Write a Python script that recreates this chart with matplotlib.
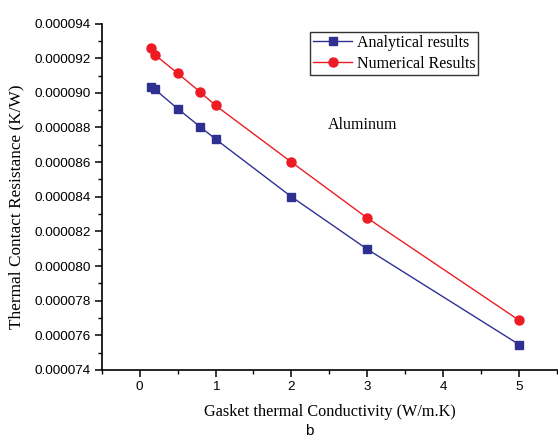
import matplotlib
matplotlib.use("Agg")
import matplotlib.pyplot as plt
from matplotlib.ticker import MultipleLocator, FormatStrFormatter

conductivity = [0.15, 0.2, 0.5, 0.8, 1, 2, 3, 5]
analytical = [0.00009033, 0.0000902, 0.00008909, 0.00008803, 0.00008733, 0.0000840, 0.00008097, 0.00007547]
numerical = [0.00009258, 0.0000922, 0.00009113, 0.00009004, 0.00008927, 0.0000860, 0.00008277, 0.00007687]

serif = ["Liberation Serif", "DejaVu Serif"]
sans = ["Liberation Sans", "DejaVu Sans"]

fig = plt.figure(figsize=(5.58, 4.43), dpi=100)
ax = fig.add_axes([0.1823, 0.1648, 0.816, 0.782])

ax.plot(conductivity, analytical, color="#2E3192", marker="s", markersize=6, lw=1.0,
        label="Analytical results")
ax.plot(conductivity, numerical, color="#ED1C24", marker="o", markersize=6.5, lw=1.0,
        label="Numerical Results")

ax.set_xlim(-0.5, 5.5)
ax.set_ylim(0.000074, 0.000094)
ax.xaxis.set_major_locator(MultipleLocator(1))
ax.xaxis.set_minor_locator(MultipleLocator(0.5))
ax.yaxis.set_major_locator(MultipleLocator(0.000002))
ax.yaxis.set_minor_locator(MultipleLocator(0.000001))
ax.yaxis.set_major_formatter(FormatStrFormatter("%.6f"))

for s in ["top", "right"]:
    ax.spines[s].set_visible(False)
for s in ["left", "bottom"]:
    ax.spines[s].set_linewidth(1.2)

ax.tick_params(which="major", direction="out", length=5, width=1.1, labelsize=9.7, pad=3)
ax.tick_params(which="minor", direction="out", length=3, width=1.0)
for lbl in ax.get_xticklabels() + ax.get_yticklabels():
    lbl.set_family(sans)

ax.set_xlabel("Gasket thermal Conductivity (W/m.K)", family=serif, fontsize=11.7, labelpad=8)
ax.set_ylabel("Thermal Contact Resistance (K/W)", family=serif, fontsize=12.4)
ax.yaxis.set_label_coords(-0.169, 0.471)

leg = ax.legend(loc="upper left", bbox_to_anchor=(0.458, 0.976), prop={"family": serif, "size": 11.5},
                frameon=True, fancybox=False, edgecolor="black", handlelength=2.4,
                borderpad=0.2, labelspacing=0.3, handletextpad=0.3, borderaxespad=0)
leg.get_frame().set_linewidth(1.0)

ax.text(0.497, 0.706, "Aluminum", transform=ax.transAxes, family=serif, fontsize=11.5, va="center")

fig.text(0.554, 0.027, "b", family=sans, fontsize=11, ha="center", va="center")

fig.savefig("out.png", dpi=100)
